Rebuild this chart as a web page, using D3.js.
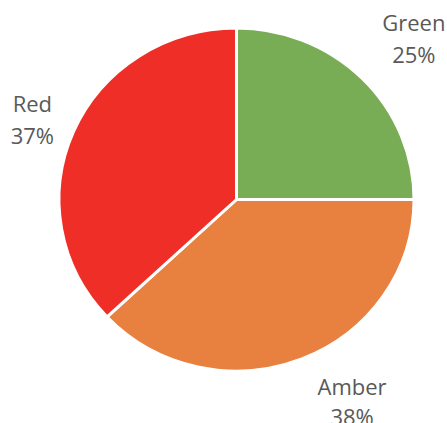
<!DOCTYPE html>
<html><head><meta charset="utf-8">
<script src="https://cdn.jsdelivr.net/npm/d3@7"></script>
<style>html,body{margin:0;padding:0;background:#fff;overflow:hidden}</style>
</head><body>
<svg id="c" width="447" height="423"></svg>
<script>
const categories = ["Green", "Amber", "Red"];
const values = [25, 38, 37];
const colors = ["#78AD56", "#E88140", "#EF2F27"];

const svg = d3.select("#c");
const cx = 236.5, cy = 199.5, r = 177.5;
const g = svg.append("g").attr("transform", `translate(${cx},${cy})`);
const pg = g.append("g").attr("transform", "scale(1,0.966)");
const data = categories.map((c, i) => ({cat: c, value: values[i], color: colors[i]}));
const pie = d3.pie().value(d => d.value).sort(null);
const arcs = pie(data);
const arc = d3.arc().innerRadius(0).outerRadius(r);
pg.selectAll("path").data(arcs).join("path")
  .attr("d", arc).attr("fill", d => d.data.color)
  .attr("stroke", "#fff").attr("stroke-width", 3).attr("stroke-linejoin", "round");

// label layout: radius, angle nudge (degrees) and line gap per slice
const labelR = [239, 234, 219];
const labelNudge = [2.9, -8, -2.2];
const lineGap = [32, 30, 32];
const total = d3.sum(values);
arcs.forEach((a, i) => {
  const m = (a.startAngle + a.endAngle) / 2 + labelNudge[i] * Math.PI / 180;
  const lr = labelR[i];
  const x = Math.sin(m) * lr, y = -Math.cos(m) * lr;
  const t = g.append("text").attr("text-anchor", "middle")
    .attr("font-family", "'Open Sans', sans-serif").attr("font-size", 22)
    .attr("fill", "#595959");
  t.append("tspan").attr("x", x).attr("y", y - 8).text(a.data.cat);
  t.append("tspan").attr("x", x).attr("y", y - 8 + lineGap[i]).text(Math.round(a.data.value / total * 100) + "%");
});
</script>
</body></html>
